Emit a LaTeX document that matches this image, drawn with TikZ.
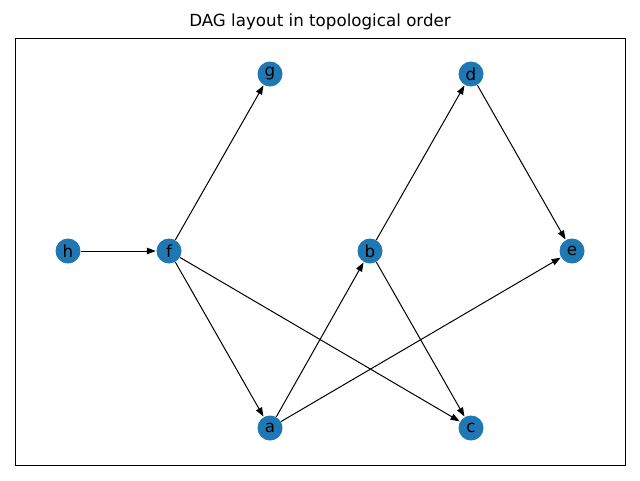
\documentclass[tikz,border=0pt]{standalone}
\usepackage{fontspec}
\setmainfont{DejaVu Sans}
\usetikzlibrary{arrows.meta}
\begin{document}
\begin{tikzpicture}[x=1pt,y=-1pt,
  vtx/.style={circle,fill={rgb,255:red,31;green,119;blue,180},minimum size=25pt,inner sep=0pt,font=\fontsize{16.7}{20}\selectfont,text=black},
  edge/.style={-{Triangle[length=9pt,width=6.5pt]},line width=1pt,shorten >=0.5pt}]
\useasboundingbox (0,0) rectangle (640,480);
\draw[line width=1pt] (15,38) rectangle (625,465);
\node[font=\fontsize{16.7}{20}\selectfont] (title) at (320,22) {DAG layout in topological order};
\node[vtx] (h) at (68,251) {h};
\node[vtx] (f) at (169,251) {f};
\node[vtx] (g) at (270,74) {g};
\node[vtx] (a) at (270,428) {a};
\node[vtx] (b) at (370,251) {b};
\node[vtx] (d) at (471,74) {d};
\node[vtx] (c) at (471,428) {c};
\node[vtx] (e) at (572,251) {e};
\draw[edge] (h) -- (f);
\draw[edge] (f) -- (g);
\draw[edge] (f) -- (a);
\draw[edge] (f) -- (c);
\draw[edge] (a) -- (b);
\draw[edge] (a) -- (e);
\draw[edge] (b) -- (d);
\draw[edge] (b) -- (c);
\draw[edge] (d) -- (e);
\end{tikzpicture}
\end{document}
